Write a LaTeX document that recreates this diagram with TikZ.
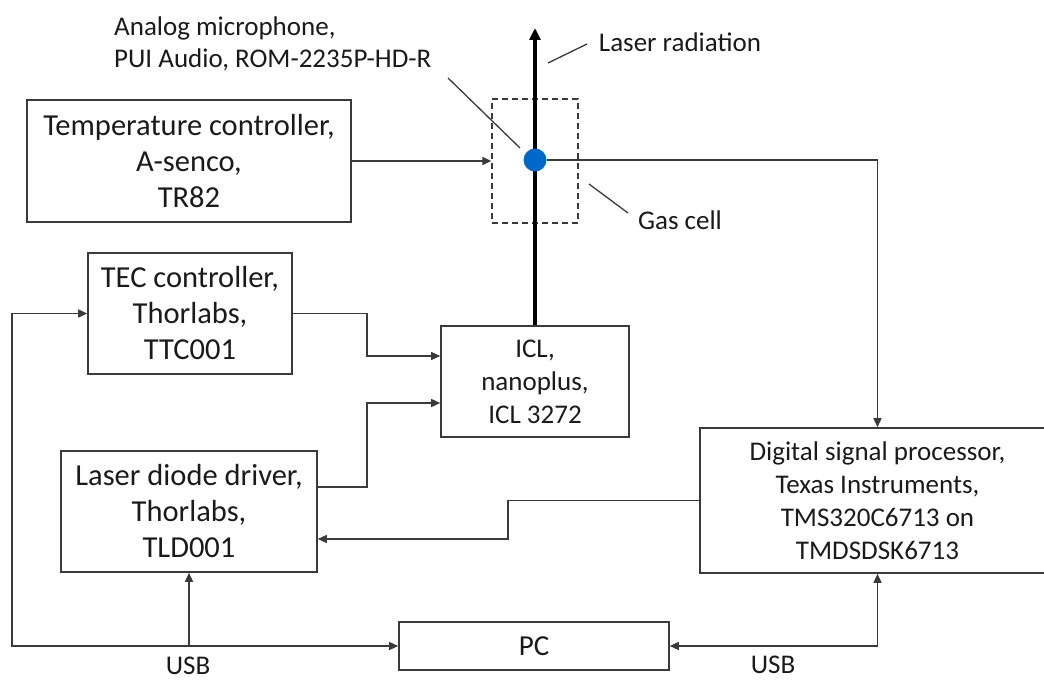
\documentclass[tikz,border=0pt]{standalone}
\usepackage{fontspec}
\setmainfont{Carlito}
\usetikzlibrary{arrows.meta,calc}
\definecolor{ln}{HTML}{3A3A3A}
\definecolor{txt}{HTML}{1A1A1A}
\definecolor{micblue}{HTML}{0068C8}
\tikzset{
  box/.style={draw=ln, line width=1.6pt, rectangle, inner sep=0pt, align=center, text=txt},
  big/.style={font=\fontsize{30.5}{36}\selectfont},
  mid/.style={font=\fontsize{27}{33}\selectfont},
  lbl/.style={text=txt, font=\fontsize{27}{32}\selectfont, inner sep=0pt},
  conn/.style={draw=ln, line width=1.5pt, -{Triangle[length=9pt,width=8pt]}},
  biconn/.style={draw=ln, line width=1.5pt, {Triangle[length=9pt,width=8pt]}-{Triangle[length=9pt,width=8pt]}},
  leader/.style={draw=ln, line width=1.3pt},
}
\begin{document}
\begin{tikzpicture}[x=1pt,y=-1pt]
\useasboundingbox (0,0) rectangle (1044,682);
\clip (0,0) rectangle (1044,682);
% boxes
\node[box,big,minimum width=324pt,minimum height=122pt] (temp) at (189,161) {Temperature controller,\\A-senco,\\TR82};
\node[box,big,minimum width=204pt,minimum height=121pt] (tec) at (190,313.5) {TEC controller,\\Thorlabs,\\TTC001};
\node[box,big,minimum width=256pt,minimum height=121pt] (ldd) at (189,511.5) {Laser diode driver,\\Thorlabs,\\TLD001};
\node[box,mid,minimum width=188pt,minimum height=111pt] (icl) at (535,381.5) {ICL,\\nanoplus,\\ICL 3272};
\node[box,mid,minimum width=355pt,minimum height=145pt] (dsp) at (877.5,500.5) {Digital signal processor,\\Texas Instruments,\\TMS320C6713 on\\TMDSDSK6713};
\node[box,font=\fontsize{29}{35}\selectfont,minimum width=270pt,minimum height=48pt] (pc) at (534,646) {PC};
% gas cell
\node[draw=ln, line width=1.3pt, dash pattern=on 6pt off 4pt, minimum width=86pt, minimum height=124pt, inner sep=0pt] (gas) at (535,161) {};
% laser radiation
\coordinate (ltip) at (535,28);
\draw[line width=3.5pt, draw=black, -{Triangle[length=12pt,width=11pt]}] (icl.north) -- (ltip);
% microphone
\node[circle, fill=micblue, minimum size=23pt, inner sep=0pt] (mic) at (535,160) {};
% labels
\node[lbl, align=left, anchor=west] (mlabel) at (114,44) {Analog microphone,\\PUI Audio, ROM-2235P-HD-R};
\node[lbl] (laserlbl) at (680,42) {Laser radiation};
\node[lbl] (gaslbl) at (680,220) {Gas cell};
\node[lbl] (usb1) at (188,666) {USB};
\node[lbl] (usb2) at (773,665) {USB};
% leader lines
\coordinate (ml1) at (448,78); \coordinate (ml2) at (520,148);
\draw[leader] (ml1) -- (ml2);
\coordinate (ll1) at (548,63); \coordinate (ll2) at (587,44);
\draw[leader] (ll1) -- (ll2);
\coordinate (gl1) at (589,184); \coordinate (gl2) at (628,213);
\draw[leader] (gl1) -- (gl2);
% connectors
\draw[conn] (temp.east) -- (gas.west);
\draw[conn] (mic.east) -| (dsp.north);
\coordinate (tj) at (367,313.5);
\draw[conn] (tec.east) -- (tj) |- ([yshift=25.5pt]icl.west);
\coordinate (lj) at (367,487);
\draw[conn] ([yshift=24.5pt]ldd.east) -- (lj) |- ([yshift=-21.5pt]icl.west);
\coordinate (dj) at (508,500.5);
\draw[conn] (dsp.west) -- (dj) |- ([yshift=-27.5pt]ldd.east);
\coordinate (bl) at (12,646);
\coordinate (bj) at (189,646);
\draw[conn] (bj) -- (pc.west);
\draw[conn] (bj) -- (bl) |- (tec.west);
\draw[conn] (bj) -- (ldd.south);
\draw[biconn] (pc.east) -| (dsp.south);
\end{tikzpicture}
\end{document}
